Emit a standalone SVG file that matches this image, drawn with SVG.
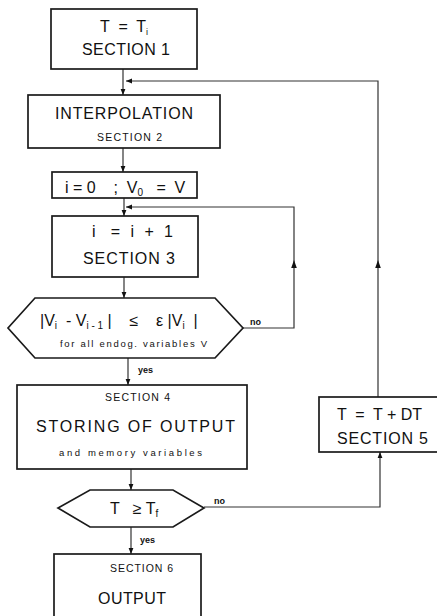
<svg xmlns="http://www.w3.org/2000/svg" width="437" height="616" viewBox="0 0 437 616">
<defs>
<style>
.box{fill:#fff;stroke:#1a1a1a;stroke-width:1.7}
.con{fill:none;stroke:#333;stroke-width:1.2}
.ah{fill:#111}
text{font-family:"Liberation Sans","DejaVu Sans",sans-serif;fill:#111;white-space:pre}
.big{font-size:16px}
.sm{font-size:10.5px}
.xs{font-size:9.5px}
.lbl{font-size:9px;font-weight:bold}
</style>
<marker id="arr" viewBox="0 0 10 10" refX="10" refY="5" markerWidth="6" markerHeight="6" orient="auto" markerUnits="userSpaceOnUse">
<path d="M0,1 L10,5 L0,9 Z" fill="#111"/>
</marker>
</defs>
<rect width="437" height="616" fill="#fff"/>

<g id="connectors">
<path class="con" d="M123,69 V95" marker-end="url(#arr)"/>
<path class="con" d="M123,148 V172" marker-end="url(#arr)"/>
<path class="con" d="M124,198 V216" marker-end="url(#arr)"/>
<path class="con" d="M124,277 V298" marker-end="url(#arr)"/>
<path class="con" d="M128,358 V385" marker-end="url(#arr)"/>
<path class="con" d="M131,469 V490" marker-end="url(#arr)"/>
<path class="con" d="M131,527 V554" marker-end="url(#arr)"/>
<path class="con" d="M243,328 H294 V207 H126" marker-end="url(#arr)"/>
<path class="con" d="M204,507 H380 V452" marker-end="url(#arr)"/>
<path class="con" d="M378,397 V81 H126" marker-end="url(#arr)"/>
<path class="ah" d="M294,260 L296.8,268 L291.2,268 Z"/>
<path class="ah" d="M378,260 L380.8,268 L375.2,268 Z"/>
<text class="lbl" x="138" y="373">yes</text>
<text class="lbl" x="140" y="543">yes</text>
<text class="lbl" x="250" y="325">no</text>
<text class="lbl" x="214" y="504">no</text>
</g>

<g id="section1">
<rect class="box" x="51" y="9" width="146" height="60"/>
<text class="big" x="100" y="32">T  =  T<tspan font-size="9" dy="3">i</tspan></text>
<text class="big" x="82" y="55" textLength="88" lengthAdjust="spacing">SECTION 1</text>
</g>

<g id="section2">
<rect class="box" x="28" y="95" width="192" height="53"/>
<text class="big" x="55" y="119" textLength="138" lengthAdjust="spacing">INTERPOLATION</text>
<text class="sm" x="97" y="141" textLength="65" lengthAdjust="spacing">SECTION 2</text>
</g>

<g id="init">
<rect class="box" x="52" y="172" width="145" height="26"/>
<text class="big" x="65" y="193">i = 0    ;  V<tspan font-size="10" dy="3">0</tspan><tspan dy="-3">   =  V</tspan></text>
</g>

<g id="section3">
<rect class="box" x="52" y="216" width="146" height="61"/>
<text class="big" x="92" y="237" textLength="81" lengthAdjust="spacing">i   =  i  +  1</text>
<text class="big" x="83" y="264" textLength="92" lengthAdjust="spacing">SECTION 3</text>
</g>

<g id="convergence">
<polygon class="box" points="35,298 215,298 243,328 215,358 35,358 8,328"/>
<text class="big" x="40" y="326" font-size="19">|V<tspan font-size="10" dy="3">i</tspan><tspan dy="-3">  - V</tspan><tspan font-size="10" dy="3">i - 1</tspan><tspan dy="-3"> |    ≤    ε |V</tspan><tspan font-size="10" dy="3">i</tspan><tspan dy="-3">  |</tspan></text>
<text class="xs" x="60" y="347" textLength="147" lengthAdjust="spacing">for all endog. variables V</text>
</g>

<g id="section4">
<rect class="box" x="17" y="385" width="230" height="84"/>
<text class="sm" x="105" y="401" textLength="65" lengthAdjust="spacing">SECTION 4</text>
<text class="big" x="36" y="432" textLength="199" lengthAdjust="spacing">STORING OF OUTPUT</text>
<text class="xs" x="59" y="456" textLength="143" lengthAdjust="spacing">and memory variables</text>
</g>

<g id="endtest">
<polygon class="box" points="90,490 173,490 204,508 173,527 90,527 58,508"/>
<text class="big" x="110" y="514" font-size="17">T   ≥ T<tspan font-size="10" dy="3">f</tspan></text>
</g>

<g id="section5">
<rect class="box" x="319" y="397" width="122" height="55"/>
<text class="big" x="337" y="420" textLength="85" lengthAdjust="spacing">T  =  T + DT</text>
<text class="big" x="337" y="444" textLength="91" lengthAdjust="spacing">SECTION 5</text>
</g>

<g id="section6">
<rect class="box" x="54" y="554" width="147" height="66"/>
<text class="sm" x="110" y="572" textLength="63" lengthAdjust="spacing">SECTION 6</text>
<text class="big" x="98" y="604" textLength="68" lengthAdjust="spacing">OUTPUT</text>
</g>
</svg>
